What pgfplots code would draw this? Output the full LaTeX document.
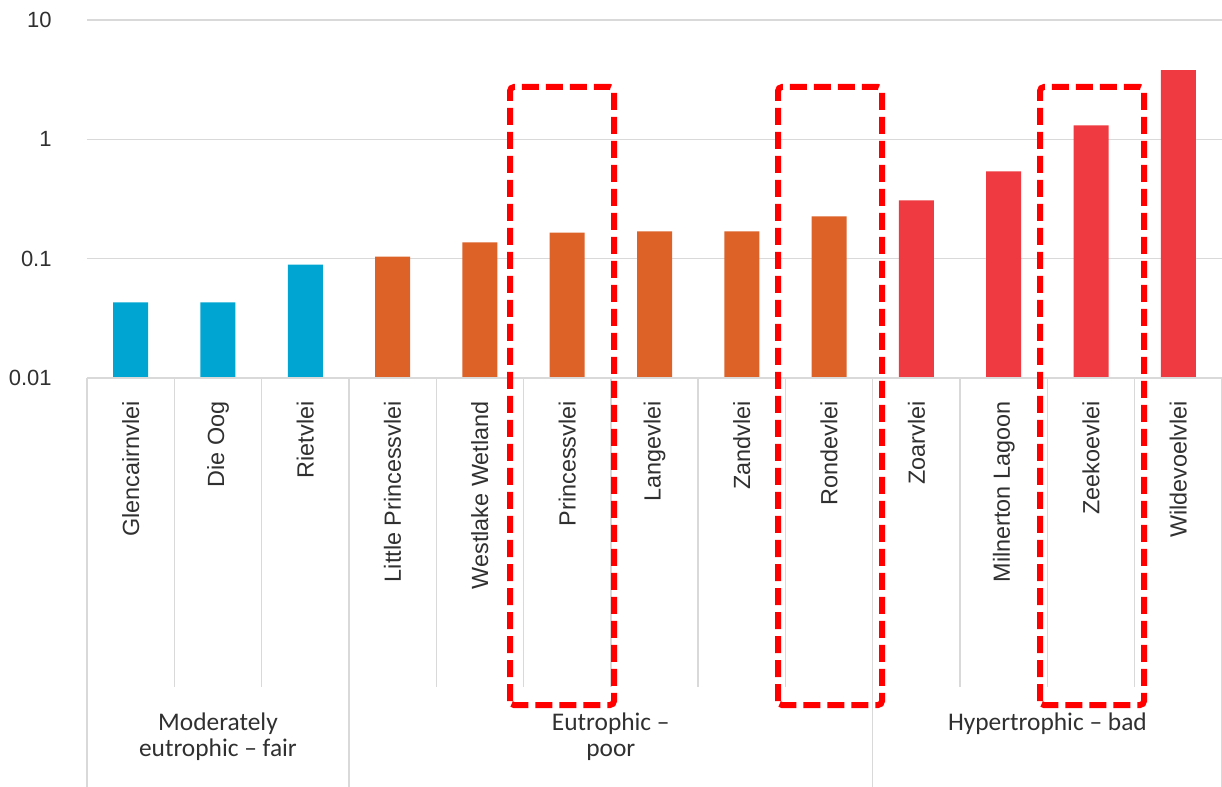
\documentclass[border=0pt]{standalone}
\usepackage{pgfplots}
\pgfplotsset{compat=1.18}
\usepackage{fontspec}
\setmainfont{Liberation Sans}
\newfontfamily\grpfont{Carlito}
\definecolor{cblue}{HTML}{00A6D1}
\definecolor{corange}{HTML}{DC6228}
\definecolor{cred}{HTML}{EE3A40}
\definecolor{gridc}{HTML}{D9D9D9}
\definecolor{txt}{HTML}{303030}
\begin{document}
\begin{tikzpicture}
\useasboundingbox (-43.5pt,-204.5pt) rectangle (567.5pt,189pt);
\begin{axis}[
  at={(0,0)}, anchor=south west,
  width=567.5pt, height=179pt, scale only axis,
  ymode=log, ymin=0.01, ymax=10, log origin=infty,
  xmin=-0.5, xmax=12.5,
  ybar, bar width=17.5pt, bar shift=0pt,
  axis line style={draw=none},
  major tick length=0pt, minor tick length=0pt,
  yminorticks=false,
  ymajorgrids, major grid style={gridc, line width=0.7pt},
  ytick={0.01,0.1,1,10}, yticklabels={0.01,0.1,1,10},
  yticklabel style={font=\fontsize{11}{13}\selectfont, text=txt, anchor=east, inner sep=0pt, xshift=-17.5pt},
  xtick={0,...,12},
  xticklabels={Glencairnvlei, Die Oog, Rietvlei, Little Princessvlei, Westlake Wetland, Princessvlei, Langevlei, Zandvlei, Rondevlei, Zoarvlei, Milnerton Lagoon, Zeekoevlei, Wildevoelvlei},
  xticklabel style={font=\fontsize{11.7}{14}\selectfont, text=txt, yshift=-11.5pt, rotate=90, anchor=east, inner sep=0pt},
  clip=false,
]
\addplot[fill=cblue, draw=none] coordinates {(0,0.043) (1,0.043) (2,0.089)};
\addplot[fill=corange, draw=none] coordinates {(3,0.104) (4,0.137) (5,0.165) (6,0.169) (7,0.169) (8,0.226)};
\addplot[fill=cred, draw=none] coordinates {(9,0.308) (10,0.54) (11,1.31) (12,3.8)};
\end{axis}
% baseline
\draw[gridc, line width=0.7pt] (0,0) -- (567.5pt,0);
% category separators
\foreach \k in {1,2,4,5,6,7,8,10,11,12}
  \draw[gridc, line width=0.7pt] (\k*43.654pt,0) -- (\k*43.654pt,-154.5pt);
\foreach \k in {0,3,9,13}
  \draw[gridc, line width=0.7pt] (\k*43.654pt,0) -- (\k*43.654pt,-204.5pt);
% group labels
\node[anchor=north, align=center, text=txt, font=\grpfont\fontsize{12.7}{13}\selectfont, inner sep=0pt] at (65.48pt,-167pt) {Moderately\\eutrophic – fair};
\node[anchor=north, align=center, text=txt, font=\grpfont\fontsize{12.7}{13}\selectfont, inner sep=0pt] at (261.9pt,-167pt) {Eutrophic –\\poor};
\node[anchor=north, align=center, text=txt, font=\grpfont\fontsize{12.7}{13}\selectfont, inner sep=0pt] at (480.2pt,-167pt) {Hypertrophic – bad};
% highlight boxes
\begin{scope}[draw=red, line width=3pt, dash pattern=on 8.5pt off 3.5pt, rounded corners=2pt]
\draw (211.5pt,-163.5pt) rectangle (263.5pt,145.5pt);
\draw (345.5pt,-163.5pt) rectangle (397.5pt,145.5pt);
\draw (476.5pt,-163.5pt) rectangle (528.5pt,145.5pt);
\end{scope}
\end{tikzpicture}
\end{document}
